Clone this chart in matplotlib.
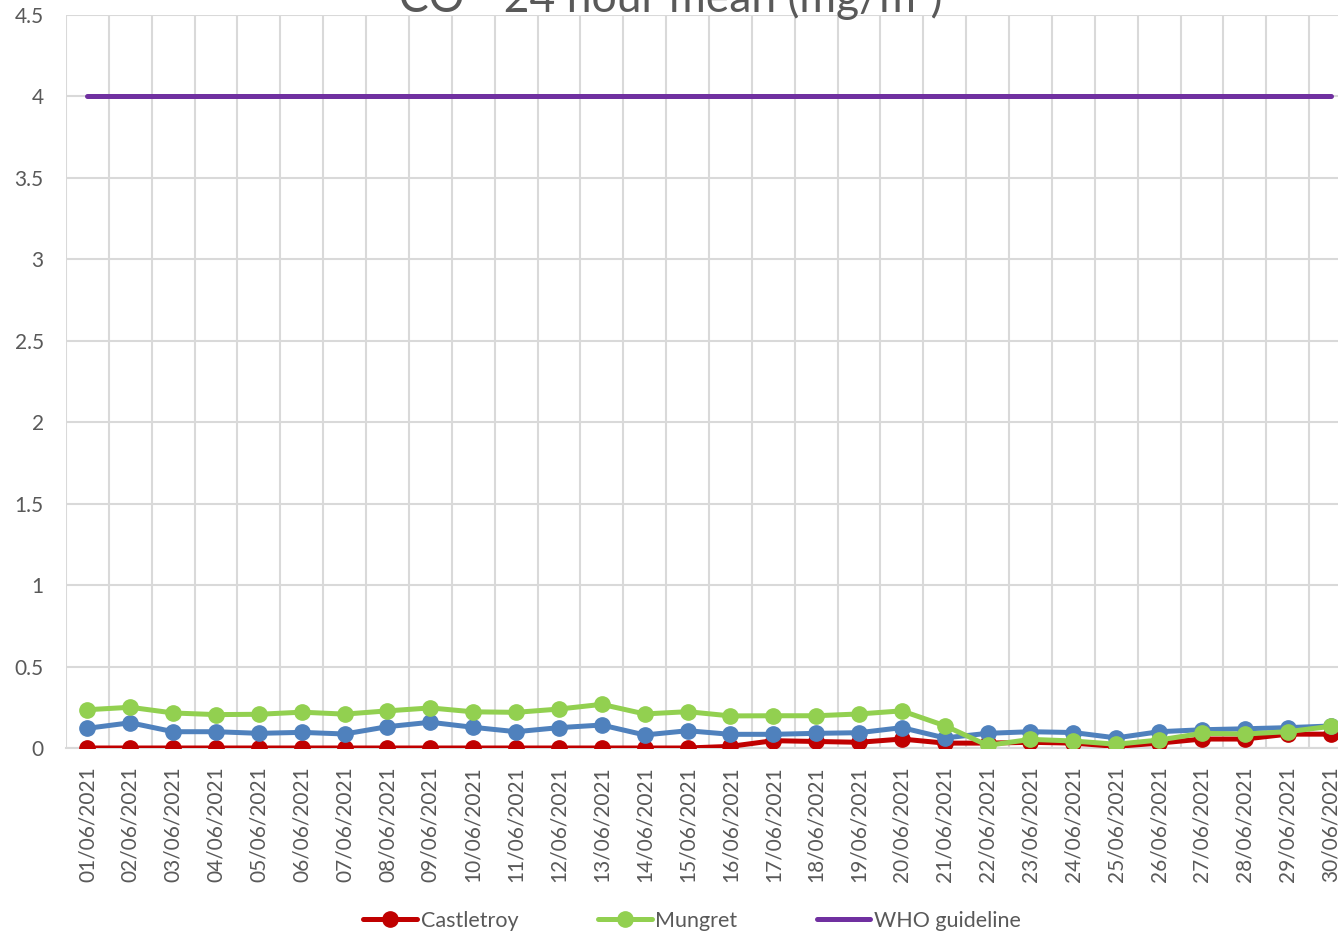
import matplotlib
matplotlib.use("Agg")
import matplotlib.pyplot as plt

plt.rcParams['font.family'] = ['Lato', 'DejaVu Sans']

# daily CO, 24 hour mean (mg/m3), June 2021
dates = ["01/06/2021", "02/06/2021", "03/06/2021", "04/06/2021", "05/06/2021",
         "06/06/2021", "07/06/2021", "08/06/2021", "09/06/2021", "10/06/2021",
         "11/06/2021", "12/06/2021", "13/06/2021", "14/06/2021", "15/06/2021",
         "16/06/2021", "17/06/2021", "18/06/2021", "19/06/2021", "20/06/2021",
         "21/06/2021", "22/06/2021", "23/06/2021", "24/06/2021", "25/06/2021",
         "26/06/2021", "27/06/2021", "28/06/2021", "29/06/2021", "30/06/2021"]

castletroy = [0.0, 0.0, 0.0, 0.0, 0.0, 0.0, 0.0, 0.0, 0.0, 0.0,
              0.0, 0.0, 0.0, 0.0, 0.0, 0.01, 0.045, 0.04, 0.035, 0.055,
              0.03, 0.03, 0.035, 0.03, 0.01, 0.03, 0.055, 0.055, 0.085, 0.085]

# third site, not in the legend of the original
blue_site = [0.121, 0.155, 0.100, 0.100, 0.090, 0.096, 0.086, 0.131, 0.158, 0.127,
             0.100, 0.125, 0.141, 0.080, 0.106, 0.084, 0.084, 0.090, 0.094, 0.125,
             0.062, 0.090, 0.100, 0.095, 0.062, 0.100, 0.112, 0.118, 0.125, 0.135]

mungret = [0.235, 0.250, 0.215, 0.205, 0.207, 0.220, 0.208, 0.228, 0.246, 0.222,
           0.219, 0.239, 0.268, 0.209, 0.223, 0.197, 0.198, 0.198, 0.209, 0.228,
           0.137, 0.016, 0.053, 0.043, 0.023, 0.049, 0.090, 0.086, 0.100, 0.133]

who_limit = 4.0
y_ticks = [0, 0.5, 1, 1.5, 2, 2.5, 3, 3.5, 4, 4.5]
y_tick_labels = ["0", "0.5", "1", "1.5", "2", "2.5", "3", "3.5", "4", "4.5"]

GREY_TEXT = '#595959'
GRID = '#D9D9D9'

fig = plt.figure(figsize=(13.38, 9.38), dpi=100)
# the original is cropped on the right, so the axes run past the figure edge
ax = fig.add_axes([66 / 1338, 1 - 748 / 938, 1286 / 1338, 733 / 938])

x = list(range(len(dates)))
style = dict(linewidth=3.6, marker='o', markersize=11, solid_capstyle='round')

ax.plot(x, castletroy, color='#C00000', label='Castletroy', zorder=3, **style)
ax.plot(x, blue_site, color='#4F81BD', zorder=4, **style)
ax.plot(x, mungret, color='#92D050', label='Mungret', zorder=5, **style)
ax.plot(x, [who_limit] * len(dates), color='#7030A0', linewidth=3.6,
        label='WHO guideline', zorder=3, solid_capstyle='round')

ax.set_xlim(-0.5, len(dates) - 0.5)
ax.set_ylim(0, 4.5)
ax.set_yticks(y_ticks)
ax.set_yticklabels(y_tick_labels)
ax.set_xticks(x)
ax.set_xticklabels(dates, rotation=90)

# vertical gridlines sit between categories
ax.set_xticks([i - 0.5 for i in range(len(dates) + 1)], minor=True)
ax.grid(False)
ax.grid(True, which='minor', axis='x', color=GRID, linewidth=1.5, zorder=0)
ax.grid(True, which='major', axis='y', color=GRID, linewidth=1.5, zorder=0)
ax.set_axisbelow(True)

ax.tick_params(axis='both', which='both', length=0, colors=GREY_TEXT, labelsize=15)
ax.tick_params(axis='y', pad=16)
ax.tick_params(axis='x', pad=13)
for side in ['top', 'right', 'left']:
    ax.spines[side].set_visible(False)
ax.spines['bottom'].set_color(GRID)
ax.spines['bottom'].set_linewidth(1.5)

# title is mostly cut off by the top edge, as in the original
fig.text(671 / 1338, 1 - 12 / 938, 'CO - 24 hour mean (mg/m\u00b3)', ha='center', va='baseline',
         fontsize=32, color=GREY_TEXT)

fig.legend(loc='center', bbox_to_anchor=(692 / 1338, 1 - 921 / 938), ncol=3, frameon=False,
           fontsize=15.5, handlelength=2.5, handletextpad=0.15, columnspacing=3.7,
           numpoints=1, labelcolor=GREY_TEXT)

fig.savefig('out.png', dpi=100)
